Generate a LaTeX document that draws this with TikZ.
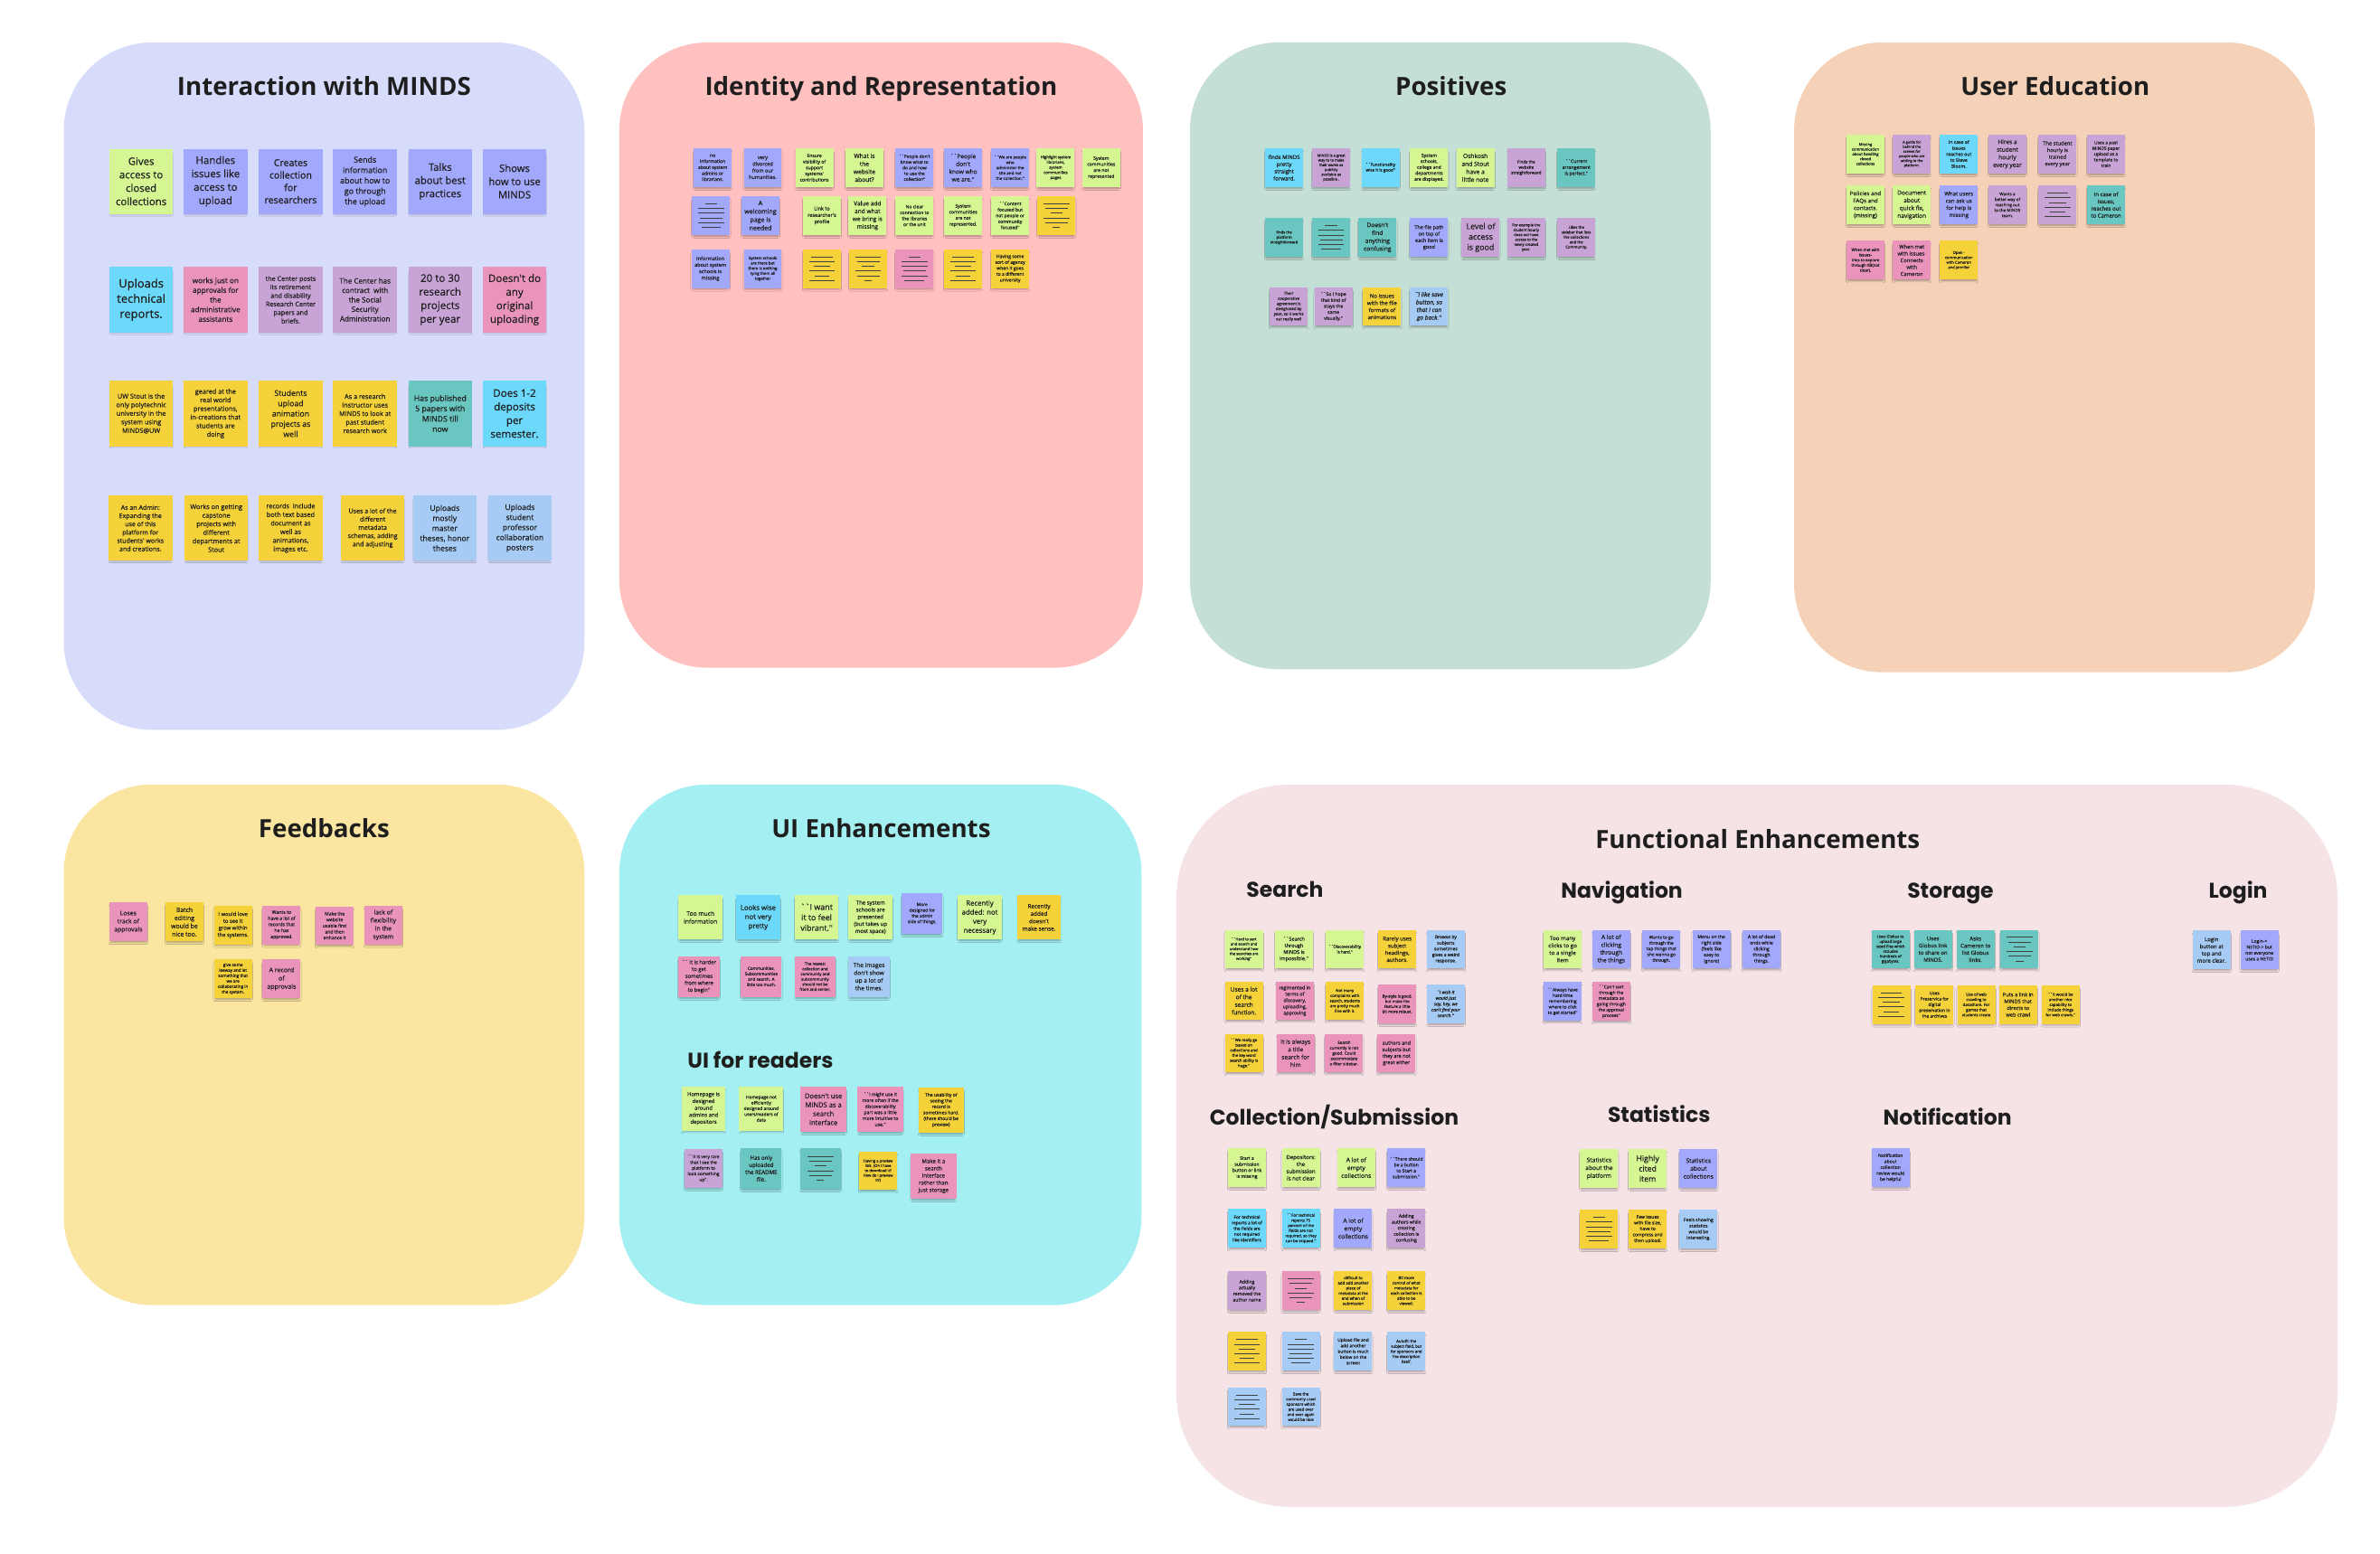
\documentclass[tikz,border=0pt]{standalone}
\usepackage{fontspec}
\setmainfont{Open Sans}
\newfontfamily\stkfont{Open Sans}[FakeBold=0.45]
\newfontfamily\headfont{Poppins}
\usetikzlibrary{shadows.blur}
\definecolor{ink}{HTML}{1E1E1E}
\definecolor{pInter}{HTML}{D8DCFB}
\definecolor{pIdent}{HTML}{FFC1BF}
\definecolor{pPos}{HTML}{C4DFD5}
\definecolor{pEdu}{HTML}{F5D1B7}
\definecolor{pFeed}{HTML}{FAE5A1}
\definecolor{pUI}{HTML}{A3EFF1}
\definecolor{pFunc}{HTML}{F5E3E6}
\definecolor{cLime}{HTML}{D5F692}
\definecolor{cYel}{HTML}{F6D23A}
\definecolor{cPer}{HTML}{A2A8FB}
\definecolor{cCyan}{HTML}{6CD8FA}
\definecolor{cPink}{HTML}{EA94BB}
\definecolor{cPur}{HTML}{C8A3D6}
\definecolor{cTeal}{HTML}{6AC6C1}
\definecolor{cBlue}{HTML}{A6CBF4}
\newcommand\rl[1]{\rule{#1pt}{0.5pt}}
\newcommand\lnsA{\rl{8}\\\rl{17}\\\rl{17}\\\rl{15}\\\rl{17}\\\rl{13}}
\newcommand\lnsB{\rl{17}\\\rl{15}\\\rl{8}\\\rl{17}\\\rl{15}\\\rl{5}}
\newcommand\lnsC{\rl{14}\\\rl{17}\\\rl{11}\\\rl{17}\\\rl{10}\\\rl{17}}
\tikzset{
  stk/.style={rectangle, inner sep=0pt, align=center, text=ink,
    blur shadow={shadow xshift=0pt, shadow yshift=-1.8pt, shadow blur radius=1.4pt, shadow opacity=34, shadow scale=0.93}},
  big/.style={minimum width=42pt, minimum height=43pt},
  sm/.style={minimum width=25pt, minimum height=25.5pt},
  md/.style={minimum width=29pt, minimum height=29pt},
  mdb/.style={minimum width=27pt, minimum height=27pt},
  lg/.style={minimum width=30pt, minimum height=30pt},
  fs/.style={font=\stkfont\fontsize{#1}{\fpeval{1.3*#1}}\selectfont},
  fsi/.style={font=\stkfont\fontsize{#1}{\fpeval{1.3*#1}}\selectfont\itshape},
  lns/.style={fs=2.4, text=ink!85},
  sLime/.style={fill=cLime}, sYel/.style={fill=cYel}, sPer/.style={fill=cPer},
  sCyan/.style={fill=cCyan}, sPink/.style={fill=cPink}, sPur/.style={fill=cPur},
  sTeal/.style={fill=cTeal}, sBlue/.style={fill=cBlue},
  ptitle/.style={font=\fontsize{16.5}{20}\selectfont\bfseries, text=ink, anchor=base},
  sub/.style={font=\headfont\fontsize{14}{17}\selectfont\bfseries, text=ink, anchor=base},
  panel/.style={draw=none, rounded corners=58pt}
}
\begin{document}
\begin{tikzpicture}[x=1pt,y=-1pt]
\fill[white] (0,0) rectangle (1568,1023.5);
\useasboundingbox (0,0) rectangle (1568,1023.5);
% panels
\fill[panel,pInter] (42,28) rectangle (385,481);
\fill[panel,pIdent] (408,28) rectangle (753,440);
\fill[panel,pPos] (784,28) rectangle (1127,441);
\fill[panel,pEdu] (1182,28) rectangle (1525,443);
\fill[panel,pFeed] (42,517) rectangle (385,860);
\fill[panel,pUI] (408,517) rectangle (752,860);
\fill[panel,pFunc,rounded corners=75pt] (775,517) rectangle (1540,993);
% titles
\node[ptitle] (t1) at (213.5,63) {Interaction with MINDS};
\node[ptitle] (t2) at (580.5,63) {Identity and Representation};
\node[ptitle] (t3) at (956,63) {Positives};
\node[ptitle] (t4) at (1354,63) {User Education};
\node[ptitle] (t5) at (213.5,552) {Feedbacks};
\node[ptitle] (t6) at (580.5,552) {UI Enhancements};
\node[ptitle] (t7) at (1158,559) {Functional Enhancements};
\node[sub] (u1) at (501,704) {UI for readers};
\node[sub] (u2) at (846.5,591) {Search};
\node[sub] (u3) at (1068.5,592) {Navigation};
\node[sub] (u4) at (1285,592) {Storage};
\node[sub] (u5) at (1474.5,592) {Login};
\node[sub] (u6) at (879,741.5) {Collection/Submission};
\node[sub] (u7) at (1093,739.5) {Statistics};
\node[sub] (u8) at (1283,741.5) {Notification};
% ---- Interaction with MINDS
\node[stk,sLime,big,fs=6.8] (a1) at (93,119.5) {Gives\\access to\\closed\\collections};
\node[stk,sPer,big,fs=6.8] (a2) at (142,119.5) {Handles\\issues like\\access to\\upload};
\node[stk,sPer,big,fs=6.3] (a3) at (191.5,119.5) {Creates\\collection\\for\\researchers};
\node[stk,sPer,big,fs=5.3] (a4) at (240.5,119.5) {Sends\\information\\about how to\\go through\\the upload};
\node[stk,sPer,big,fs=6.7] (a5) at (290,119.5) {Talks\\about best\\practices};
\node[stk,sPer,big,fs=6.7] (a6) at (339,119.5) {Shows\\how to use\\MINDS};
\node[stk,sCyan,big,fs=7.7] (a7) at (93,197.5) {Uploads\\technical\\reports.};
\node[stk,sPink,big,fs=4.9] (a8) at (142,197.5) {works just on\\approvals for\\the\\administrative\\assistants};
\node[stk,sPur,big,fs=4.3] (a9) at (191.5,197.5) {the Center posts\\its retirement\\and disability\\Research Center\\papers and\\briefs.};
\node[stk,sPur,big,fs=4.8] (a10) at (240.5,197.5) {The Center has\\contract\ \ with\\the Social\\Security\\Administration};
\node[stk,sPur,big,fs=6.9] (a11) at (290,197.5) {20 to 30\\research\\projects\\per year};
\node[stk,sPink,big,fs=6.9] (a12) at (339,197.5) {Doesn't do\\any\\original\\uploading};
\node[stk,sYel,big,fs=4.35] (a13) at (93,272.5) {UW Stout is the\\only polytechnic\\university in the\\system using\\MINDS@UW};
\node[stk,sYel,big,fs=4.35] (a14) at (142,272.5) {geared at the\\real world\\presentations,\\in-creations that\\students are\\doing};
\node[stk,sYel,big,fs=5.2] (a15) at (191.5,272.5) {Students\\upload\\animation\\projects as\\well};
\node[stk,sYel,big,fs=4.35] (a16) at (240.5,272.5) {As a research\\instructor uses\\MINDS to look at\\past student\\research work};
\node[stk,sTeal,big,fs=5.2] (a17) at (290,272.5) {Has published\\5 papers with\\MINDS till\\now};
\node[stk,sCyan,big,fs=6.9] (a18) at (339,272.5) {Does 1-2\\deposits\\per\\semester.};
\node[stk,sYel,big,fs=4.2] (a19) at (92.5,348) {As an Admin:\\Expanding the\\use of this\\platform for\\students' works\\and creations.};
\node[stk,sYel,big,fs=4.35] (a20) at (142.5,348) {Works on getting\\capstone\\projects with\\different\\departments at\\Stout};
\node[stk,sYel,big,fs=4.35] (a21) at (191.5,348) {records\ \ include\\both text based\\document as\\well as\\animations,\\images etc.};
\node[stk,sYel,big,fs=4.2] (a22) at (245.5,348) {Uses a lot of the\\different\\metadata\\schemas, adding\\and adjusting};
\node[stk,sBlue,big,fs=5.1] (a23) at (293,348) {Uploads\\mostly\\master\\theses, honor\\theses};
\node[stk,sBlue,big,fs=5.1] (a24) at (342.5,348) {Uploads\\student\\professor\\collaboration\\posters};
% ---- Identity and Representation
\node[stk,sPer,sm,fs=3.05] (b1) at (469.5,110.5) {no\\information\\about system\\admins or\\librarians.};
\node[stk,sPer,sm,fs=3.35] (b2) at (502.5,110.5) {very\\divorced\\from our\\humanities.};
\node[stk,sLime,sm,fs=3.05] (b3) at (536.5,110.5) {Ensure\\visibility of\\support\\systems'\\contributions};
\node[stk,sLime,sm,fs=4.0] (b4) at (569.5,110.5) {What is\\the\\website\\about?};
\node[stk,sPer,sm,fs=2.9] (b5) at (602.5,110.5) {``People don't\\know what to\\do and how\\to use the\\collection''};
\node[stk,sPer,sm,fs=3.9] (b6) at (634.5,110.5) {``People\\don't\\know who\\we are.''};
\node[stk,sPer,sm,fs=2.7] (b7) at (665.5,110.5) {``We are people\\who\\administer the\\site and not\\the collection.''};
\node[stk,sLime,sm,fs=2.6] (b8) at (695.5,110.5) {Highlight system\\librarians,\\system\\communities\\pages};
\node[stk,sLime,sm,fs=3.05] (b9) at (725.5,110.5) {System\\communities\\are not\\represented};
\node[stk,sPer,sm,lns] (b10) at (468.5,142) {\lnsA};
\node[stk,sPer,sm,fs=4.2] (b11) at (501,142) {A\\welcoming\\page is\\needed};
\node[stk,sLime,sm,fs=3.3] (b12) at (541.5,142) {Link to\\researcher's\\profile};
\node[stk,sLime,sm,fs=3.9] (b13) at (571.5,142) {Value add\\and what\\we bring is\\missing};
\node[stk,sLime,sm,fs=3.0] (b14) at (602.5,142) {No clear\\connection to\\the libraries\\or the unit};
\node[stk,sLime,sm,fs=3.05] (b15) at (634.5,142) {System\\communities\\are not\\represented.};
\node[stk,sLime,sm,fs=3.0] (b16) at (665.5,142) {``Content\\focused but\\not people or\\community\\focused''};
\node[stk,sYel,sm,lns] (b17) at (696,142) {\lnsB};
\node[stk,sPer,sm,fs=3.3] (b18) at (468,177) {Information\\about system\\schools is\\missing};
\node[stk,sPer,sm,fs=2.6] (b19) at (502.5,177) {System schools\\are there but\\there is nothing\\tying them all\\together};
\node[stk,sYel,sm,lns] (b20) at (541.5,177) {\lnsC};
\node[stk,sYel,sm,lns] (b21) at (572,177) {\lnsB};
\node[stk,sPink,sm,lns] (b22) at (602.5,177) {\lnsA};
\node[stk,sYel,sm,lns] (b23) at (634.5,177) {\lnsC};
\node[stk,sYel,sm,fs=3.0] (b24) at (665.5,177) {Having some\\sort of agency\\when it goes\\to a different\\university};
% ---- Positives
\node[stk,sCyan,sm,fs=3.6] (c1) at (846,110.5) {finds MINDS\\pretty\\straight\\forward.};
\node[stk,sPur,sm,fs=2.4] (c2) at (877,110.5) {MINDS is a great\\way to to make\\their works as\\publicly\\available as\\possible .};
\node[stk,sCyan,sm,fs=2.75] (c3) at (909.5,110.5) {``Functionality\\wise it is good''};
\node[stk,sLime,sm,fs=3.0] (c4) at (941.5,110.5) {System\\schools,\\college and\\departments\\are displayed.};
\node[stk,sLime,sm,fs=4.0] (c5) at (972,110.5) {Oshkosh\\and Stout\\have a\\little note};
\node[stk,sPur,sm,fs=2.75] (c6) at (1005.5,110.5) {Finds the\\website\\straightforward};
\node[stk,sTeal,sm,fs=3.05] (c7) at (1038.5,110.5) {``Current\\arrangement\\is perfect.''};
\node[stk,sTeal,sm,fs=2.5] (c8) at (846,156.5) {finds the\\platform\\straightforward};
\node[stk,sTeal,sm,lns] (c9) at (877,156.5) {\lnsA};
\node[stk,sTeal,sm,fs=4.0] (c10) at (907.5,156.5) {Doesn't\\find\\anything\\confusing};
\node[stk,sPer,sm,fs=3.3] (c11) at (941.5,156.5) {The file path\\on top of\\each item is\\good};
\node[stk,sPur,sm,fs=5.3] (c12) at (975.5,156.5) {Level of\\access\\is good};
\node[stk,sPur,sm,fs=2.45] (c13) at (1005.5,156.5) {For example the\\student hourly\\does not have\\access to the\\newly created\\year.};
\node[stk,sPur,sm,fs=2.5] (c14) at (1038.5,156.5) {Likes the\\sidebar that lists\\the collections\\and the\\Community.};
\node[stk,sPur,sm,fs=2.6] (c15) at (849,202) {Their\\cooperative\\agreement is\\designated by\\year, so it works\\out really well};
\node[stk,sPur,sm,fs=3.05] (c16) at (878.5,202) {``So I hope\\that kind of\\stays the\\same\\visually.''};
\node[stk,sYel,sm,fs=3.6] (c17) at (910.5,202) {No issues\\with the file\\formats of\\animations};
\node[stk,sBlue,sm,fsi=3.9] (c18) at (941.5,202) {``I like save\\button, so\\that I can\\go back.''};
% ---- User Education
\node[stk,sLime,sm,fs=2.45] (d1) at (1229,101.5) {Missing\\communication\\about handling\\closed\\collections};
\node[stk,sPur,sm,fs=2.35] (d2) at (1259.5,101.5) {A guide for\\behind the\\scenes for\\people who are\\adding to the\\platform.};
\node[stk,sCyan,sm,fs=3.05] (d3) at (1290.5,101.5) {In case of\\issues\\reaches out\\to Steve\\Bloom.};
\node[stk,sPur,sm,fs=3.9] (d4) at (1322.5,101.5) {Hires a\\student\\hourly\\every year};
\node[stk,sPur,sm,fs=3.45] (d5) at (1355.5,101.5) {The student\\hourly is\\trained\\every year};
\node[stk,sPur,sm,fs=2.9] (d6) at (1387.5,101.5) {Uses a past\\MINDS paper\\upload as a\\template to\\train};
\node[stk,sLime,sm,fs=3.7] (d7) at (1229,135) {Policies and\\FAQs and\\contacts.\\(missing)};
\node[stk,sLime,sm,fs=3.9] (d8) at (1259.5,135) {Document\\about\\quick fix,\\navigation};
\node[stk,sPer,sm,fs=3.6] (d9) at (1290.5,135) {What users\\can ask us\\for help is\\missing};
\node[stk,sPur,sm,fs=2.75] (d10) at (1322.5,135) {Wants a\\better way of\\reaching out\\to the MINDS\\team.};
\node[stk,sPur,sm,lns] (d11) at (1355.5,135) {\lnsC};
\node[stk,sTeal,sm,fs=3.6] (d12) at (1387.5,135) {In case of\\issues,\\reaches out\\to Cameron};
\node[stk,sPink,sm,fs=2.6] (d13) at (1229,171.5) {When met with\\issues-\\tries to explore\\through KB(not\\clear).};
\node[stk,sPink,sm,fs=3.45] (d14) at (1259.5,171.5) {When met\\with issues-\\Connects\\with\\Cameron};
\node[stk,sYel,sm,fs=2.5] (d15) at (1290.5,171.5) {Open -\\communication\\with Cameron\\and Jennifer};
% ---- Feedbacks
\node[stk,sPink,sm,fs=4.1] (e1) at (84.5,607.5) {Loses\\track of\\approvals};
\node[stk,sYel,sm,fs=4.1] (e2) at (121.5,607.5) {Batch\\editing\\would be\\nice too.};
\node[stk,sYel,sm,fs=3.5] (e3) at (153.5,609.5) {I would love\\to see it\\grow within\\the systems.};
\node[stk,sPink,sm,fs=3.1] (e4) at (185.5,609.5) {Wants to\\have a list of\\records that\\he has\\approved.};
\node[stk,sPink,sm,fs=3.05] (e5) at (220.5,610) {Make the\\website\\usable first\\and then\\enhance it};
\node[stk,sPink,sm,fs=4.1] (e6) at (252.5,609.5) {lack of\\flexibility\\in the\\system};
\node[stk,sYel,sm,fs=2.75] (e7) at (153.5,645) {give some\\leeway and let\\something that\\we are\\collaborating in\\the system.};
\node[stk,sPink,sm,fs=4.2] (e8) at (185.5,645) {A record\\of\\approvals};
% ---- UI Enhancements
\node[stk,sLime,md,fs=4.0] (f1) at (461.5,604.5) {Too much\\information};
\node[stk,sCyan,md,fs=4.6] (f2) at (499.5,604.5) {Looks wise\\not very\\pretty};
\node[stk,sLime,md,fs=5.3] (f3) at (538,604.5) {``I want\\it to feel\\vibrant.''};
\node[stk,sLime,md,fs=3.6] (f4) at (573.5,604.5) {The system\\schools are\\presented\\(but takes up\\most space)};
\node[stk,sPer,mdb,fs=2.9] (f5) at (607.5,602) {More\\designed for\\the admin\\side of things.};
\node[stk,sLime,md,fs=4.6] (f6) at (645.5,604.5) {Recently\\added: not\\very\\necessary};
\node[stk,sYel,md,fs=3.8] (f7) at (684.5,604.5) {Recently\\added\\doesn't\\make sense.};
\node[stk,sPink,mdb,fs=3.5] (f8) at (460.5,643.5) {`` It is harder\\to get\\sometimes\\from where\\to begin''};
\node[stk,sPink,mdb,fs=2.75] (f9) at (501.5,643.5) {Communities,\\Subcommunities\\and search. A\\little too much.};
\node[stk,sPink,mdb,fs=2.6] (f10) at (537,643.5) {The newest\\collection and\\community and\\subcommunity\\should not be\\front and center.};
\node[stk,sBlue,mdb,fs=3.9] (f11) at (572.5,643.5) {The images\\don't show\\up a lot of\\the times.};
% ---- UI for readers
\node[stk,sLime,md,fs=3.5] (g1) at (463.5,730.5) {Homepage is\\designed\\around\\admins and\\depositors};
\node[stk,sLime,md,fs=2.9] (g2) at (501.5,730.5) {Homepage not\\efficiently\\designed around\\users/readers of\\data};
\node[stk,sPink,lg,fs=4.5] (g3) at (542.5,731) {Doesn't use\\MINDS as a\\search\\interface};
\node[stk,sPink,lg,fs=3.05] (g4) at (580,731) {``I might use it\\more often if the\\discoverability\\part was a little\\more intuitive to\\use.''};
\node[stk,sYel,lg,fs=3.0] (g5) at (620,731.5) {The usability of\\seeing the\\record is\\sometimes hard.\\(there should be\\preview)};
\node[stk,sPur,sm,fs=2.9] (g6) at (463.5,770) {``It is very rare\\that I see the\\platform to\\look something\\up''.};
\node[stk,sTeal,mdb,fs=3.65] (g7) at (501.5,770) {Has only\\uploaded\\the README\\file.};
\node[stk,sTeal,mdb,lns] (g8) at (540.5,770) {\lnsB};
\node[stk,sYel,sm,fs=2.45] (g9) at (578.5,771.5) {Having a preview\\link. (Oh I have\\to download it?\\How do I preview\\it?)};
\node[stk,sPink,lg,fs=3.65] (g10) at (615,775) {Make it a\\search\\interface\\rather than\\just storage};
% ---- Search
\node[stk,sLime,sm,fs=2.45] (h1) at (819.5,625.5) {``Hard to sort\\and search and\\understand how\\the searches are\\working''};
\node[stk,sLime,sm,fs=3.3] (h2) at (852.5,625.5) {``Search\\through\\MINDS is\\impossible.''};
\node[stk,sLime,sm,fs=2.7] (h3) at (886,625.5) {``Discoverability\\is hard.''};
\node[stk,sYel,sm,fs=3.6] (h4) at (920.5,625.5) {Rarely uses\\subject\\headings,\\authors.};
\node[stk,sBlue,sm,fs=3.0] (h5) at (952.5,625.5) {Browse by\\subjects\\sometimes\\gives a weird\\response.};
\node[stk,sYel,sm,fs=3.9] (h6) at (819.5,659.5) {Uses a lot\\of the\\search\\function.};
\node[stk,sPink,sm,fs=3.2] (h7) at (853,659.5) {regimented in\\terms of\\discovery,\\uploading,\\approving};
\node[stk,sYel,sm,fs=2.6] (h8) at (886,659.5) {Not many\\complaints with\\search, students\\are pretty much\\fine with it.};
\node[stk,sPink,sm,fs=2.6] (h9) at (920.5,661.5) {By-style is good,\\but make the\\feature a little\\bit more robust.};
\node[stk,sBlue,sm,fsi=2.95] (h10) at (952.5,661.5) {``I wish it\\would just\\say, hey, we\\can't find your\\search.''};
\node[stk,sYel,sm,fs=2.6] (h11) at (819.5,694) {``We really go\\based on\\collections and\\the key word\\search ability is\\huge.''};
\node[stk,sPink,sm,fs=3.9] (h12) at (853.5,694) {It is always\\a title\\search for\\him};
\node[stk,sPink,sm,fs=2.7] (h13) at (885.5,694) {Search\\currently is not\\good. Could\\accommodate\\a filter sidebar.};
\node[stk,sPink,sm,fs=3.3] (h14) at (920,694) {authors and\\subjects but\\they are not\\great either};
% ---- Navigation
\node[stk,sLime,sm,fs=3.7] (i1) at (1029.5,625.5) {Too many\\clicks to go\\to a single\\item};
\node[stk,sPer,sm,fs=3.9] (i2) at (1061.5,625.5) {A lot of\\clicking\\through\\the things};
\node[stk,sPer,sm,fs=2.9] (i3) at (1094.5,625.5) {Wants to go\\through the\\top things that\\she wanna go\\through.};
\node[stk,sPer,sm,fs=3.05] (i4) at (1127.5,625.5) {Menu on the\\right side\\(feels like\\easy to\\ignore)};
\node[stk,sPer,sm,fs=3.05] (i5) at (1160.5,625.5) {A lot of dead\\ends while\\clicking\\through\\things.};
\node[stk,sPer,sm,fs=2.9] (i6) at (1029.5,660) {``Always have\\hard time\\remembering\\where to click\\to get started''};
\node[stk,sPink,sm,fs=2.9] (i7) at (1061.5,660) {``Can't sort\\through the\\metadata as\\going through\\the approval\\process''};
% ---- Storage
\node[stk,sTeal,sm,fs=2.5] (j1) at (1245.5,625.5) {Uses Globus to\\upload large\\sized files which\\includes\\hundreds of\\gigabytes.};
\node[stk,sTeal,sm,fs=3.6] (j2) at (1273.5,625.5) {Uses\\Globus link\\to share on\\MINDS.};
\node[stk,sTeal,sm,fs=3.6] (j3) at (1301.5,625.5) {Asks\\Cameron to\\list Globus\\links.};
\node[stk,sTeal,sm,lns] (j4) at (1330.5,625.5) {\lnsB};
\node[stk,sYel,sm,lns] (j5) at (1246,662) {\lnsC};
\node[stk,sYel,sm,fs=2.9] (j6) at (1274.5,662) {Uses\\Preservica for\\digital\\preservation in\\the archives};
\node[stk,sYel,sm,fs=2.6] (j7) at (1302,662) {Use of web\\crawling to\\datashare. For\\games that\\students create};
\node[stk,sYel,sm,fs=3.4] (j8) at (1329.5,662) {Puts a link in\\MINDS that\\directs to\\web crawl};
\node[stk,sYel,sm,fs=2.6] (j9) at (1357.5,662) {``It would be\\another nice\\capability to\\include things\\for web crawls.''};
% ---- Login
\node[stk,sBlue,sm,fs=3.6] (k1) at (1457,626) {Login\\button at\\top and\\more clear.};
\node[stk,sPer,sm,fs=3.0] (k2) at (1488.5,626) {Login->\\NETID-> but\\not everyone\\uses a NETID};
% ---- Notification
\node[stk,sPer,sm,fs=3.0] (l1) at (1245.5,769.5) {Notification\\about\\collection\\review would\\be helpful};
% ---- Collection/Submission
\node[stk,sLime,sm,fs=3.05] (m1) at (821.5,769.5) {Start a\\submission\\button or link\\is missing};
\node[stk,sLime,sm,fs=3.6] (m2) at (857,769.5) {Depositors:\\the\\submission\\is not clear};
\node[stk,sLime,sm,fs=4.0] (m3) at (893.5,769.5) {A lot of\\empty\\collections};
\node[stk,sPer,sm,fs=3.0] (m4) at (926.5,769.5) {``There should\\be a button\\to Start a\\submission.''};
\node[stk,sCyan,sm,fs=2.9] (m5) at (821.5,809.5) {For technical\\reports a lot of\\the fields are\\not required\\like identifiers};
\node[stk,sCyan,sm,fs=2.6] (m6) at (857,809.5) {``For technical\\reports 75\\percent of the\\fields are not\\required, so they\\can be skipped.''};
\node[stk,sPer,sm,fs=4.0] (m7) at (891.5,809.5) {A lot of\\empty\\collections};
\node[stk,sPur,sm,fs=3.05] (m8) at (926.5,809.5) {Adding\\authors while\\creating\\collection is\\confusing};
\node[stk,sPur,sm,fs=3.05] (m9) at (821.5,850.5) {Adding\\actually\\removed the\\author name};
\node[stk,sPink,sm,lns] (m10) at (857,850.5) {\lnsB};
\node[stk,sYel,sm,fs=2.6] (m11) at (891.5,850.5) {difficult to\\add add another\\piece of\\metadata at the\\end when of\\submission};
\node[stk,sYel,sm,fs=2.6] (m12) at (926.5,850.5) {Bit more\\control of what\\metadata for\\each collection is\\able to be\\viewed.};
\node[stk,sYel,sm,lns] (m13) at (821.5,890.5) {\lnsC};
\node[stk,sBlue,sm,lns] (m14) at (857,890.5) {\lnsA};
\node[stk,sBlue,sm,fs=2.9] (m15) at (891.5,890.5) {Upload file and\\add another\\button is much\\below on the\\screen};
\node[stk,sBlue,sm,fs=2.6] (m16) at (926.5,890.5) {Autofill the\\subject field, but\\for sponsors and\\the description\\itself.};
\node[stk,sBlue,sm,lns] (m17) at (821.5,927) {\lnsC};
\node[stk,sBlue,sm,fs=2.6] (m18) at (857,927) {Save the\\commonly used\\sponsors which\\are used over\\and over again\\would be nice};
% ---- Statistics
\node[stk,sLime,sm,fs=4.0] (n1) at (1053.5,770) {Statistics\\about the\\platform};
\node[stk,sLime,sm,fs=5.2] (n2) at (1085.5,770) {Highly\\cited\\item};
\node[stk,sPer,sm,fs=4.0] (n3) at (1119,770) {Statistics\\about\\collections};
\node[stk,sYel,sm,lns] (n4) at (1053.5,810) {\lnsA};
\node[stk,sYel,sm,fs=3.0] (n5) at (1085.5,810) {Few issues\\with file size,\\have to\\compress and\\then upload.};
\node[stk,sBlue,sm,fs=3.0] (n6) at (1119,810) {Feels showing\\statistics\\would be\\interesting.};
\end{tikzpicture}
\end{document}
